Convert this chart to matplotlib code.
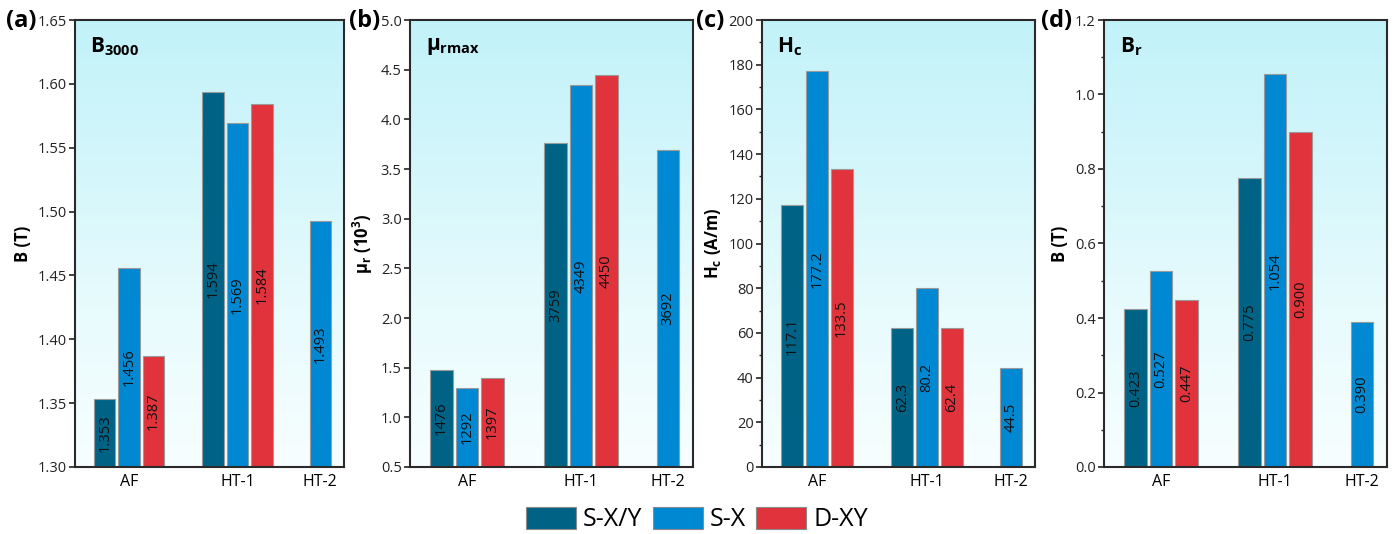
import matplotlib
matplotlib.use('Agg')
import matplotlib.pyplot as plt
import numpy as np
from matplotlib.colors import LinearSegmentedColormap
from matplotlib.ticker import MultipleLocator, FormatStrFormatter
from matplotlib.patches import Patch

plt.rcParams['font.family'] = ['Open Sans', 'DejaVu Sans']
plt.rcParams['mathtext.fontset'] = 'custom'
plt.rcParams['mathtext.rm'] = 'Open Sans'
plt.rcParams['mathtext.bf'] = 'Open Sans:bold'
plt.rcParams['mathtext.it'] = 'Open Sans:italic'

categories = ['AF', 'HT-1', 'HT-2']
series_names = ['S-X/Y', 'S-X', 'D-XY']
series_colors = ['#006386', '#0089d2', '#e0333b']

# (a) B3000 (T)
b3000_sxy = [1.353, 1.594, None]
b3000_sx = [1.456, 1.569, 1.493]
b3000_dxy = [1.387, 1.584, None]
# (b) mu_rmax (raw, plotted in 10^3)
mu_sxy = [1476, 3759, None]
mu_sx = [1292, 4349, 3692]
mu_dxy = [1397, 4450, None]
# (c) Hc (A/m)
hc_sxy = [117.1, 62.3, None]
hc_sx = [177.2, 80.2, 44.5]
hc_dxy = [133.5, 62.4, None]
# (d) Br (T)
br_sxy = [0.423, 0.775, None]
br_sx = [0.527, 1.054, 0.390]
br_dxy = [0.447, 0.900, None]

group_x = [0.0, 4.45, 7.85]
offsets = [-1.0, 0.0, 1.0]
bar_w = 0.88

panels = [
    dict(letter='(a)', title=r'$\mathbf{B_{3000}}$', ylabel='B (T)',
         data=[b3000_sxy, b3000_sx, b3000_dxy], scale=1.0, fmt='{:.3f}',
         ylim=(1.30, 1.65), major=0.05, minor=None, tfmt='%.2f',
         rect=[75, 344], letter_x=6),
    dict(letter='(b)', title=r'$\mathbf{μ_{rmax}}$', ylabel=r'$\mathbf{μ_r\ (10^3)}$',
         data=[mu_sxy, mu_sx, mu_dxy], scale=1000.0, fmt='{:.0f}',
         ylim=(0.5, 5.0), major=0.5, minor=None, tfmt='%.1f',
         rect=[410, 693], letter_x=349),
    dict(letter='(c)', title=r'$\mathbf{H_c}$', ylabel=r'$\mathbf{H_c\ (A/m)}$',
         data=[hc_sxy, hc_sx, hc_dxy], scale=1.0, fmt='{:.1f}',
         ylim=(0, 200), major=20, minor=10, tfmt='%d',
         rect=[762, 1035], letter_x=696),
    dict(letter='(d)', title=r'$\mathbf{B_r}$', ylabel='B (T)',
         data=[br_sxy, br_sx, br_dxy], scale=1.0, fmt='{:.3f}',
         ylim=(0.0, 1.2), major=0.2, minor=0.1, tfmt='%.1f',
         rect=[1104, 1387], letter_x=1041),
]

W, H = 1394, 534
fig = plt.figure(figsize=(W / 100, H / 100), dpi=100)

# background: near white at the bottom, light cyan at the top
bg = LinearSegmentedColormap.from_list(
    'bg', [(0.0, '#f7feff'), (0.35, '#e8fbfd'), (0.7, '#d2f6fb'), (1.0, '#c2f2f9')])
grad = np.linspace(0, 1, 256).reshape(-1, 1)

top_px, bot_px = 20, 467
for p in panels:
    x0, x1 = p['rect']
    ax = fig.add_axes([x0 / W, (H - bot_px) / H, (x1 - x0) / W, (bot_px - top_px) / H])
    ax.imshow(grad, extent=[0, 1, 0, 1], transform=ax.transAxes, origin='lower',
              cmap=bg, aspect='auto', zorder=0)
    y0 = p['ylim'][0]
    for si, vals in enumerate(p['data']):
        for gi, v in enumerate(vals):
            if v is None:
                continue
            h = v / p['scale']
            x = group_x[gi] + offsets[si]
            ax.bar(x, h - y0, bottom=y0, width=bar_w, color=series_colors[si],
                   edgecolor='#9a9a9a', linewidth=0.8, zorder=2)
            ax.text(x, (y0 + h) / 2, p['fmt'].format(v), rotation=90,
                    ha='center', va='center', fontsize=10.5, color='#111111', zorder=3)
    ax.set_xlim(-2.22, 8.82)
    ax.set_ylim(*p['ylim'])
    ax.set_xticks(group_x)
    ax.set_xticklabels(categories, fontsize=11.5)
    ax.tick_params(axis='x', length=0, pad=5)
    ax.yaxis.set_major_locator(MultipleLocator(p['major']))
    if p['minor']:
        ax.yaxis.set_minor_locator(MultipleLocator(p['minor']))
    ax.yaxis.set_major_formatter(FormatStrFormatter(p['tfmt']))
    ax.tick_params(axis='y', which='major', direction='out', length=4, width=1.2,
                   labelsize=10.5, colors='#222222', pad=2)
    ax.tick_params(axis='y', which='minor', direction='out', length=2.5, width=1.0,
                   colors='#222222')
    for sp in ax.spines.values():
        sp.set_linewidth(1.5)
        sp.set_color('#2a2a2a')
        sp.set_zorder(4)
    ax.set_ylabel(p['ylabel'], fontsize=12, fontweight='bold', labelpad=4)
    ax.text(0.055, 0.965, p['title'], transform=ax.transAxes, ha='left', va='top',
            fontsize=15, zorder=5)
    fig.text(p['letter_x'] / W, 1 - 21 / H, p['letter'], ha='left', va='center',
             fontsize=17, fontweight='bold')

handles = [Patch(facecolor=c, edgecolor='#8a8a8a', linewidth=0.8) for c in series_colors]
fig.legend(handles, series_names, loc='center', bbox_to_anchor=(0.5, 0.027), ncol=3,
           frameon=False, fontsize=18, handlelength=2.0, handleheight=1.0,
           handletextpad=0.3, columnspacing=0.4, borderaxespad=0)

fig.savefig('out.png', dpi=100)
